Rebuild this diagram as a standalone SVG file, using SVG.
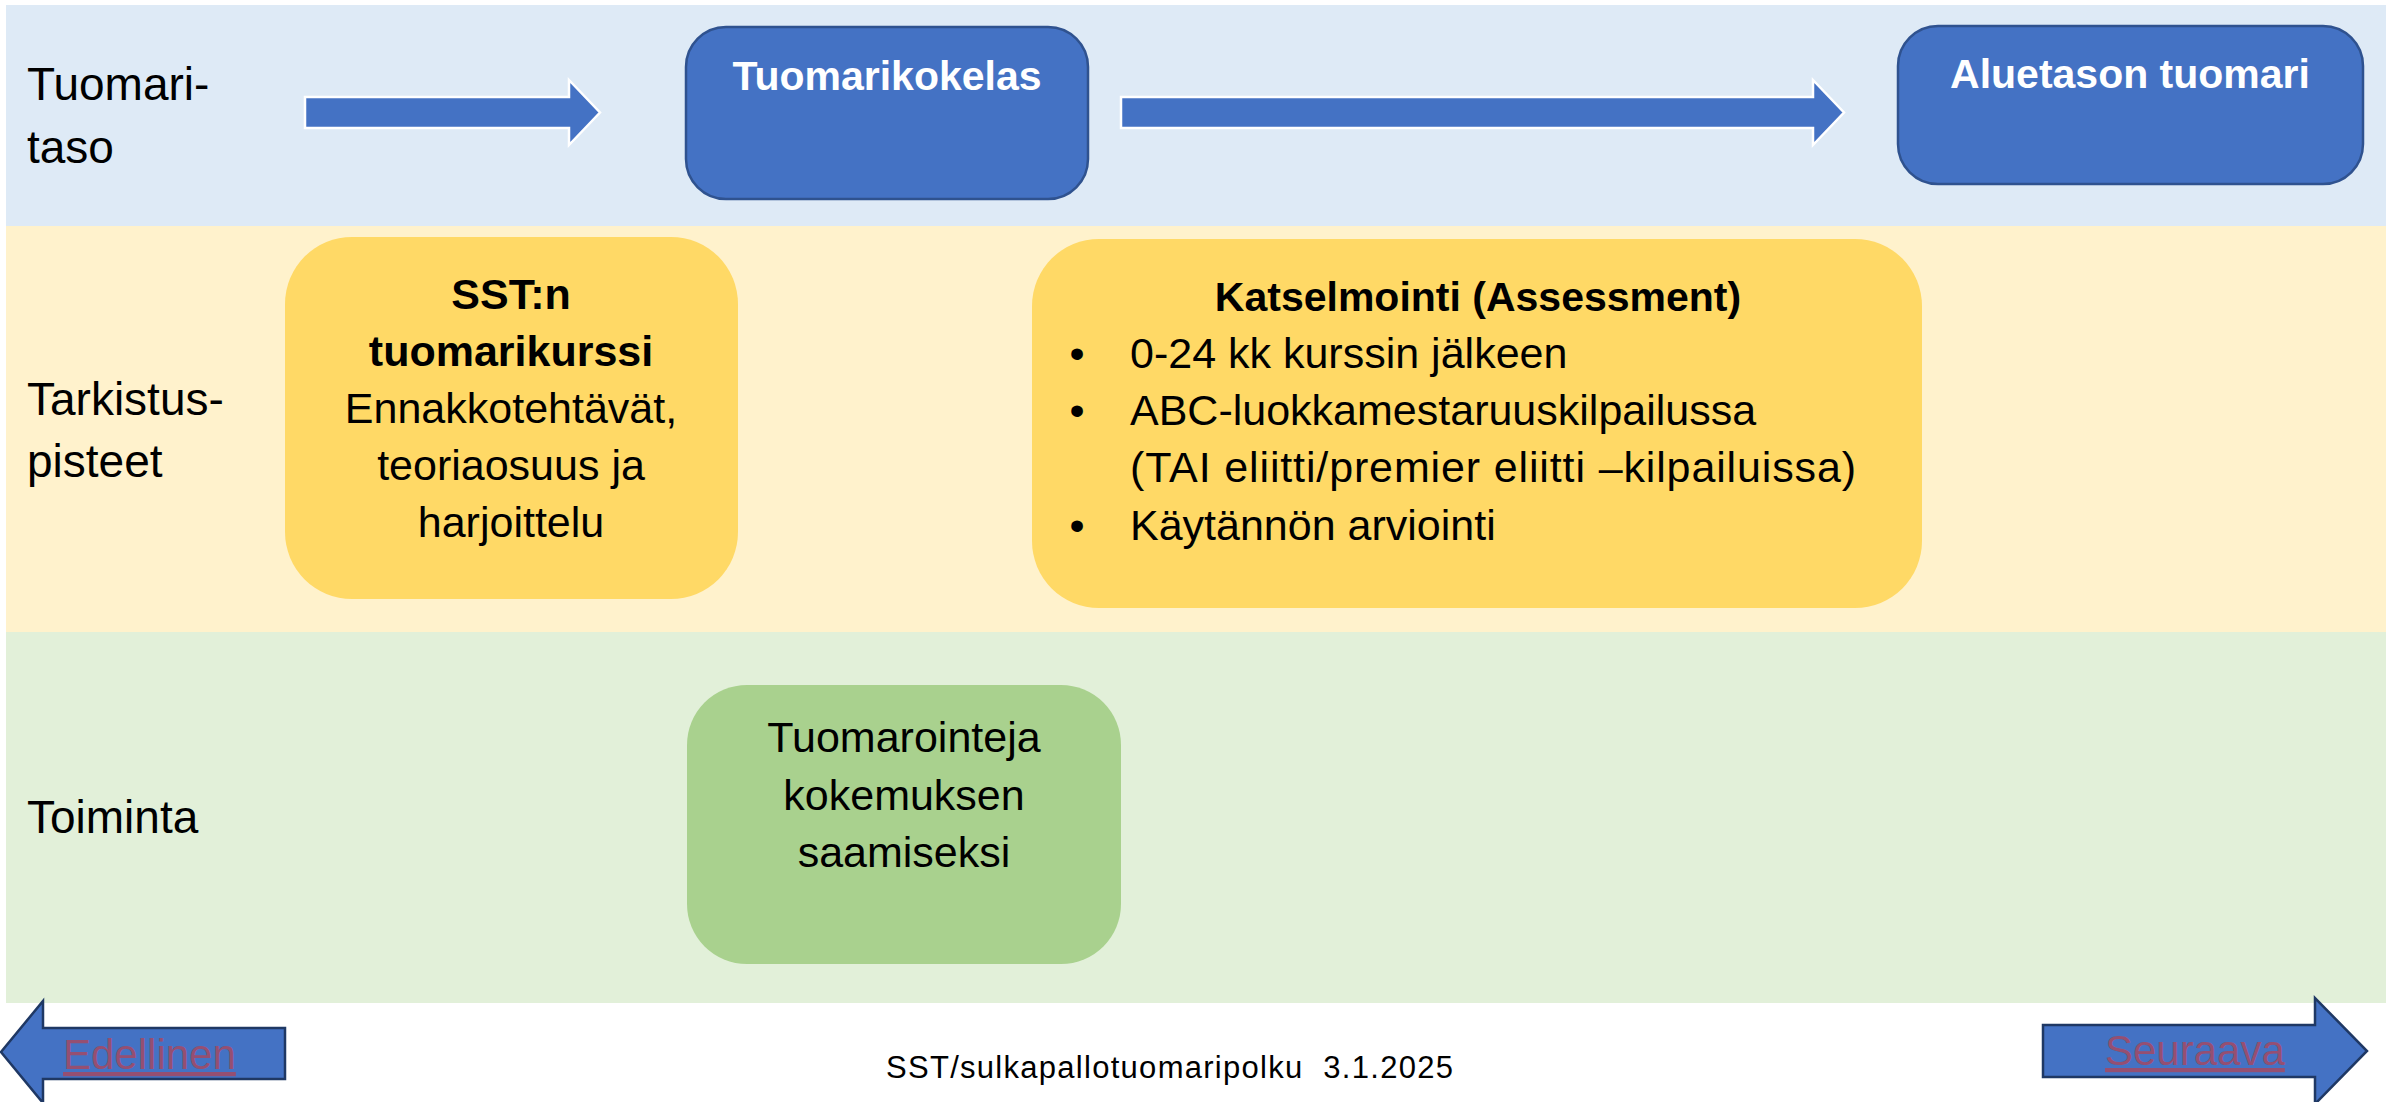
<svg xmlns="http://www.w3.org/2000/svg" width="2397" height="1102" viewBox="0 0 2397 1102">
<style>
text { font-family: "Liberation Sans", Arial, sans-serif; fill: #000; }
.lbl { font-size: 46px; }
.body { font-size: 43px; }
.bold { font-weight: bold; }
.ttl { font-size: 41px; font-weight: bold; fill: #fff; text-anchor: middle; }
.mid { text-anchor: middle; }
.level { fill: #4472C4; stroke: #2F528F; stroke-width: 2.5; }
.check { fill: #FFD966; }
.act { fill: #A9D18E; }
.flow { fill: #4472C4; stroke: #fff; stroke-width: 2.5; }
.nav { fill: #4472C4; stroke: #1F3864; stroke-width: 2.5; }
.link { font-size: 42px; fill: #954F72; text-decoration: underline; }
</style>
<g id="bands">
<rect x="6" y="5" width="2380" height="221" fill="#DEEAF6"/>
<rect x="6" y="226" width="2380" height="406" fill="#FFF2CC"/>
<rect x="6" y="632" width="2380" height="371" fill="#E2F0D9"/>
</g>
<g id="row-labels">
<text class="lbl" x="27" y="100">Tuomari-</text>
<text class="lbl" x="27" y="163">taso</text>
<text class="lbl" x="27" y="415">Tarkistus-</text>
<text class="lbl" x="27" y="477">pisteet</text>
<text class="lbl" x="27" y="833">Toiminta</text>
</g>
<g id="connectors">
<polygon class="flow" points="305,97 569,97 569,80 600,112.5 569,145 569,128 305,128"/>
<polygon class="flow" points="1121,97 1813,97 1813,80 1844,112.5 1813,145 1813,128 1121,128"/>
</g>
<g id="node-tuomarikokelas">
<rect class="level" x="686" y="27" width="402" height="172" rx="40"/>
<text class="ttl" x="887" y="90">Tuomarikokelas</text>
</g>
<g id="node-aluetason-tuomari">
<rect class="level" x="1898" y="26" width="465" height="158" rx="40"/>
<text class="ttl" x="2130" y="88">Aluetason tuomari</text>
</g>
<g id="node-tuomarikurssi">
<rect class="check" x="285" y="237" width="453" height="362" rx="67"/>
<text class="body bold mid" x="511" y="309" font-size="42">SST:n</text>
<text class="body bold mid" x="511" y="366" font-size="42">tuomarikurssi</text>
<text class="body mid" x="511" y="423">Ennakkotehtävät,</text>
<text class="body mid" x="511" y="480">teoriaosuus ja</text>
<text class="body mid" x="511" y="537">harjoittelu</text>
</g>
<g id="node-katselmointi">
<rect class="check" x="1032" y="239" width="890" height="369" rx="67"/>
<text class="mid bold" x="1478" y="311" font-size="41">Katselmointi (Assessment)</text>
<text class="body mid" x="1077" y="368">•</text>
<text class="body" x="1130" y="368">0-24 kk kurssin jälkeen</text>
<text class="body mid" x="1077" y="425">•</text>
<text class="body" x="1130" y="425">ABC-luokkamestaruuskilpailussa</text>
<text class="body" x="1130" y="482" textLength="726" lengthAdjust="spacing">(TAI eliitti/premier eliitti –kilpailuissa)</text>
<text class="body mid" x="1077" y="540">•</text>
<text class="body" x="1130" y="540">Käytännön arviointi</text>
</g>
<g id="node-tuomarointeja">
<rect class="act" x="687" y="685" width="434" height="279" rx="60"/>
<text class="body mid" x="904" y="752">Tuomarointeja</text>
<text class="body mid" x="904" y="810">kokemuksen</text>
<text class="body mid" x="904" y="867">saamiseksi</text>
</g>
<g id="nav-edellinen">
<polygon class="nav" points="285,1028 43,1028 43,1001 1,1052 43,1103 43,1079 285,1079"/>
<text class="link" x="63" y="1069">Edellinen</text>
</g>
<g id="nav-seuraava">
<polygon class="nav" points="2043,1025 2315,1025 2315,998 2367,1051 2315,1104 2315,1077 2043,1077"/>
<text class="link" x="2105" y="1065" font-size="41">Seuraava</text>
</g>
<g id="footer">
<text x="886" y="1078" font-size="31" xml:space="preserve" textLength="567" lengthAdjust="spacing">SST/sulkapallotuomaripolku  3.1.2025</text>
</g>
</svg>
